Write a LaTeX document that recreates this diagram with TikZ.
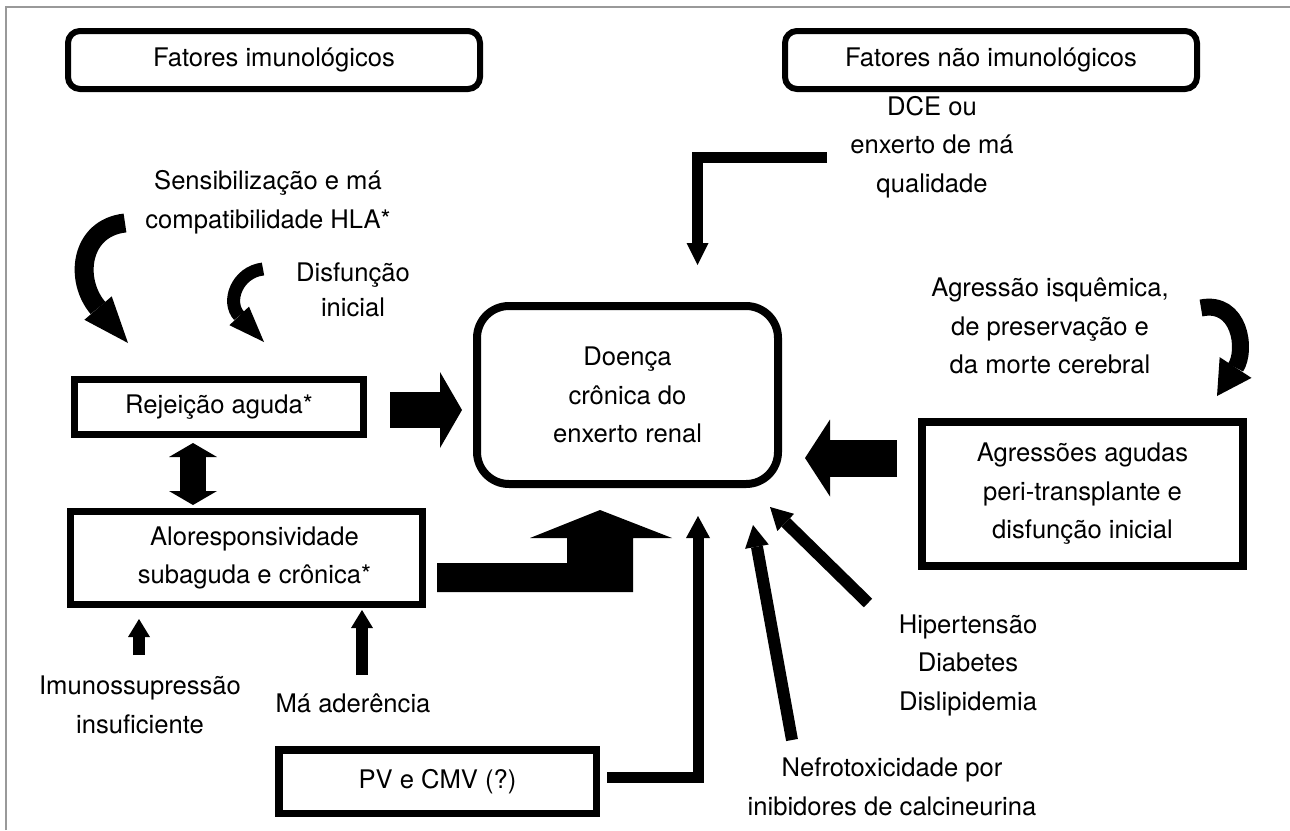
\documentclass[tikz,border=0pt]{standalone}
\usepackage{fontspec}
\setmainfont{TeX Gyre Heros}
\usetikzlibrary{arrows.meta,calc}
\begin{document}
\begin{tikzpicture}[x=1pt,y=-1pt,
  txt/.style={font=\fontsize{25.6}{38.5}\selectfont, align=center, inner sep=0pt},
  hdr/.style={txt, draw, line width=6pt, rounded corners=12pt},
  bx/.style={txt, draw, line width=7pt},
  conn/.style={line cap=butt, line join=miter}]
\fill[white] (0,0) rectangle (1290,830);
\useasboundingbox (0,0) rectangle (1290,830);
\draw[black!40, line width=1.5pt] (6,830) -- (6,7) -- (1290,7);

% nodes
\node[hdr, minimum width=412pt, minimum height=58pt] (h1) at (274,60) {Fatores imunológicos};
\node[hdr, minimum width=412pt, minimum height=58pt] (h2) at (991,60) {Fatores não imunológicos};
\node[txt] (sens) at (268,202) {Sensibilização e má\\compatibilidade HLA*};
\node[txt] (disf) at (353,290) {Disfunção\\[-3.5pt]inicial};
\node[txt] (dce) at (932,147) {DCE ou\\enxerto de má\\qualidade};
\node[txt] (isq) at (1050,326) {Agressão isquêmica,\\de preservação e\\da morte cerebral};
\node[bx, line width=8pt, minimum width=321pt, minimum height=144pt] (agr) at (1082.5,494) {Agressões agudas\\peri-transplante e\\disfunção inicial};
\node[bx, line width=8pt, rounded corners=32pt, minimum width=301pt, minimum height=178pt] (cen) at (627.5,395) {Doença\\crônica do\\enxerto renal};
\node[bx, minimum width=289pt, minimum height=55pt] (rej) at (219,407) {Rejeição aguda*};
\node[bx, minimum width=352pt, minimum height=93pt] (alo) at (246.5,558) {\hspace*{16pt}Aloresponsividade\\\hspace*{16pt}subaguda e crônica*};
\node[bx, line width=7.5pt, minimum width=317.5pt, minimum height=63.5pt] (pv) at (437.5,781.5) {PV e CMV (?)};
\node[txt] (hip) at (968,665) {Hipertensão\\Diabetes\\Dislipidemia};
\node[txt] (nef) at (892,787) {Nefrotoxicidade por\\inibidores de calcineurina};
\node[txt] (imu) at (140,705) {Imunossupressão\\insuficiente};
\node[txt] (mad) at (353,703) {Má aderência};

% connector end points
\coordinate (r1) at (390,410);   \coordinate (r2) at (462,410);
\coordinate (g1) at (897,458);   \coordinate (g2) at (805,458);
\coordinate (d1) at (193,443);   \coordinate (d2) at (193,505);
\coordinate (e1) at (827,157.5); \coordinate (e2) at (697.5,265);
\coordinate (p1) at (607,777.5); \coordinate (p2) at (698,516);
\coordinate (t1) at (868,603);   \coordinate (t2) at (770,507);
\coordinate (n1) at (792,740);   \coordinate (n2) at (753,525);
\coordinate (i1) at (139,655);   \coordinate (i2) at (139,619);
\coordinate (m1) at (362,675);   \coordinate (m2) at (362,610);
\coordinate (a1) at (437,563);   \coordinate (a2) at (600,510);

% block arrows
\draw[conn, line width=36pt, -{Triangle[width=76pt,length=22pt,line width=0pt]}] (r1) -- (r2);
\draw[conn, line width=37pt, -{Triangle[width=77pt,length=25pt,line width=0pt]}] (g1) -- (g2);
\draw[conn, line width=26pt, {Triangle[width=48pt,length=14pt,line width=0pt]}-{Triangle[width=48pt,length=14pt,line width=0pt]}] (d1) -- (d2);
\fill (a1) -- (567,563) -- (567,538) -- (530,538) -- (a2) -- (672,538) -- (633,538) -- (633,592) -- (437,592) -- cycle;

% thin arrows
\draw[conn, line width=11pt, -{Triangle[width=22pt,length=22pt,line width=0pt]}] (e1) -| (e2);
\draw[conn, line width=11pt, -{Triangle[width=24pt,length=22pt,line width=0pt]}] (p1) -| (p2);
\draw[conn, line width=12pt, -{Triangle[width=24pt,length=22pt,line width=0pt]}] (t1) -- (t2);
\draw[conn, line width=12pt, -{Triangle[width=24pt,length=22pt,line width=0pt]}] (n1) -- (n2);
\draw[conn, line width=12pt, -{Triangle[width=22pt,length=18pt,line width=0pt]}] (i1) -- (i2);
\draw[conn, line width=12pt, -{Triangle[width=22pt,length=18pt,line width=0pt]}] (m1) -- (m2);

% curved arrows
\coordinate (c1s) at (125,223); \coordinate (c1e) at (128,343);
\coordinate (c2s) at (263,269); \coordinate (c2e) at (264,342);
\coordinate (c3s) at (1201,308); \coordinate (c3e) at (1217,396);
\draw[conn, line width=19pt, -{Triangle[width=36pt,length=46pt,line width=0pt]}] (c1s) .. controls (80,228) and (74,280) .. (c1e);
\draw[conn, line width=13pt, -{Triangle[width=27pt,length=36pt,line width=0pt]}] (c2s) .. controls (237,272) and (226,302) .. (c2e);
\draw[conn, line width=17pt, -{Triangle[width=38pt,length=34pt,line width=0pt]}] (c3s) .. controls (1240,300) and (1247,350) .. (c3e);
\end{tikzpicture}
\end{document}
